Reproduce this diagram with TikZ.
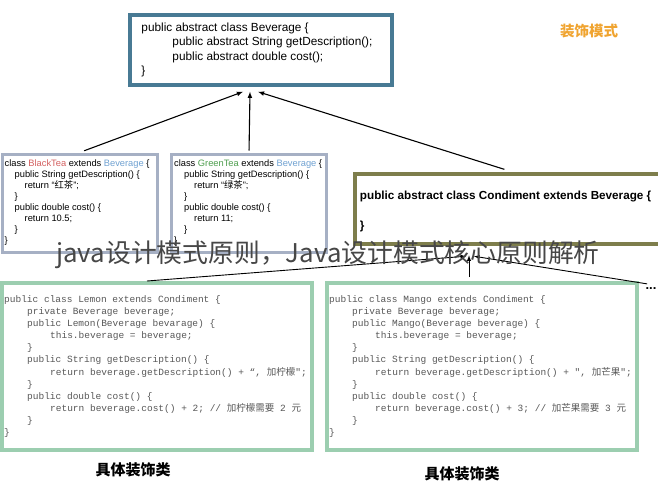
\documentclass[tikz,border=0pt]{standalone}
\usepackage{fontspec}
\setmainfont{Liberation Sans}
\setmonofont{Liberation Mono}
\newfontfamily\cjk{Noto Sans CJK SC}
\usetikzlibrary{positioning}
\definecolor{basecolor}{RGB}{72,122,148}
\definecolor{teacolor}{RGB}{166,176,196}
\definecolor{condcolor}{RGB}{126,126,76}
\definecolor{deccolor}{RGB}{156,206,176}
\definecolor{blackteacolor}{RGB}{212,96,96}
\definecolor{greenteacolor}{RGB}{78,158,78}
\definecolor{bevnamecolor}{RGB}{112,162,210}
\definecolor{titlecolor}{RGB}{240,164,48}
\definecolor{codecolor}{RGB}{88,88,88}
\newcommand{\nameFmt}[2]{{\color{#1}#2}}
\newcommand{\blackTea}{\nameFmt{blackteacolor}{BlackTea}}
\newcommand{\greenTea}{\nameFmt{greenteacolor}{GreenTea}}
\newcommand{\bevName}{\nameFmt{bevnamecolor}{Beverage}}
\newcommand{\ind}[1]{\hspace*{#1pt}}

\begin{document}
\begin{tikzpicture}[
			x=1pt, y=-1pt, >=latex,
			box/.style={rectangle, fill=white, inner sep=0pt},
			basebox/.style={box, draw=basecolor, line width=3.5pt, minimum width=262pt, minimum height=70pt},
			teabox/.style={box, draw=teacolor, line width=3pt, minimum width=155pt, minimum height=98pt},
			condbox/.style={box, draw=condcolor, line width=4.5pt, minimum width=314pt, minimum height=70pt},
			decbox/.style={box, draw=deccolor, line width=4pt, minimum width=310pt, minimum height=167pt},
			boxtext/.style={align=left, inner sep=0pt},
			basetext/.style={boxtext, font=\fontsize{11.8}{14.3}\selectfont},
			teatext/.style={boxtext, font=\fontsize{9.3}{11}\selectfont},
			condtext/.style={boxtext, font=\fontsize{11.7}{15}\selectfont\bfseries},
			code/.style={boxtext, font=\fontsize{9.5}{12.1}\selectfont\ttfamily, text=codecolor},
			caption/.style={font=\fontsize{15}{18}\selectfont\cjk\bfseries},
			link/.style={->, line width=1.1pt},
			sublink/.style={->, line width=0.9pt},
		]

		\fill[white] (0,0) rectangle (658,490);
		\useasboundingbox (0,0) rectangle (658,490);

		\node[basebox] (bev)    at (261,50)      {};
		\node[basetext] (bevcode) [right=13pt of bev.west] {public abstract class Beverage \{\\
			\ind{31}public abstract String getDescription();\\
			\ind{31}public abstract double cost();\\
			\}};

		\node[caption, text=titlecolor, font=\fontsize{14.5}{17}\selectfont\cjk\bfseries] (title) at (589,31) {装饰模式};

		\node[teabox] (black)   at (79.5,203)    {};
		\node[teabox] (green)   at (249,203)     {};
		\node[condbox] (cond)   at (512,209)     {};

		\node[teatext] (blackcode) [right=4pt of black.west] {class \blackTea{} extends \bevName{} \{\\
			\ind{10}public String getDescription() \{\\
			\ind{20}return “{\cjk 红茶}”;\\
			\ind{10}\}\\
			\ind{10}public double cost() \{\\
			\ind{20}return 10.5;\\
			\ind{10}\}\\
			\}};
		\node[teatext] (greencode) [right=4pt of green.west] {class \greenTea{} extends \bevName{} \{\\
			\ind{10}public String getDescription() \{\\
			\ind{20}return “{\cjk 绿茶}”;\\
			\ind{10}\}\\
			\ind{10}public double cost() \{\\
			\ind{20}return 11;\\
			\ind{10}\}\\
			\}};
		\node[condtext] (condcode) [right=7pt of cond.west, yshift=-2pt] {public abstract class Condiment extends Beverage \{\\[15pt]
			\}};

		\node[decbox] (lemon)   at (157,366.5)   {};
		\node[decbox] (mango)   at (482,366.5)   {};
		\node[font=\fontsize{13}{15}\selectfont\bfseries] (more) at (651,289) {...};

		\node[code] (lemoncode) [right=4pt of lemon.west] {public class Lemon extends Condiment \{\\
			\ind{23}private Beverage beverage;\\
			\ind{23}public Lemon(Beverage bevarage) \{\\
			\ind{46}this.beverage = beverage;\\
			\ind{23}\}\\
			\ind{23}public String getDescription() \{\\
			\ind{46}return beverage.getDescription() + “, {\cjk 加柠檬}";\\
			\ind{23}\}\\
			\ind{23}public double cost() \{\\
			\ind{46}return beverage.cost() + 2; // {\cjk 加柠檬需要} 2 {\cjk 元}\\
			\ind{23}\}\\
			\}};
		\node[code] (mangocode) [right=4pt of mango.west] {public class Mango extends Condiment \{\\
			\ind{23}private Beverage beverage;\\
			\ind{23}public Mango(Beverage beverage) \{\\
			\ind{46}this.beverage = beverage;\\
			\ind{23}\}\\
			\ind{23}public String getDescription() \{\\
			\ind{46}return beverage.getDescription() + ", {\cjk 加芒果}";\\
			\ind{23}\}\\
			\ind{23}public double cost() \{\\
			\ind{46}return beverage.cost() + 3; // {\cjk 加芒果需要} 3 {\cjk 元}\\
			\ind{23}\}\\
			\}};

		\node[caption] (lemonname) [below=7pt of lemon, xshift=-24pt]  {具体装饰类};
		\node[caption] (mangoname) [below=11pt of mango, xshift=-20pt] {具体装饰类};


		\draw[link, shorten <=5pt] (black.north) -- ([xshift=-18pt,yshift=-5pt]bev.south);
		\draw[link, shorten <=2pt] (green.north) -- ([xshift=-11pt,yshift=-5pt]bev.south);
		\draw[link, shorten <=8pt] (cond.north) -- ([xshift=-3pt,yshift=-5pt]bev.south);
		\draw[sublink] ([xshift=-10pt]lemon.north) -- ([xshift=-46pt,yshift=-10pt]cond.south);
		\draw[sublink, shorten <=4pt] ([xshift=-13pt]mango.north) -- ([xshift=-43pt,yshift=-9pt]cond.south);
		\draw[sublink, shorten <=4pt] (more.north) -- ([xshift=-38pt,yshift=-10pt]cond.south);

		\node[font=\fontsize{25.8}{30}\selectfont\cjk, text=black!72] (mark) at (328,255) {java设计模式原则，Java设计模式核心原则解析};

		\end{tikzpicture}
\end{document}
